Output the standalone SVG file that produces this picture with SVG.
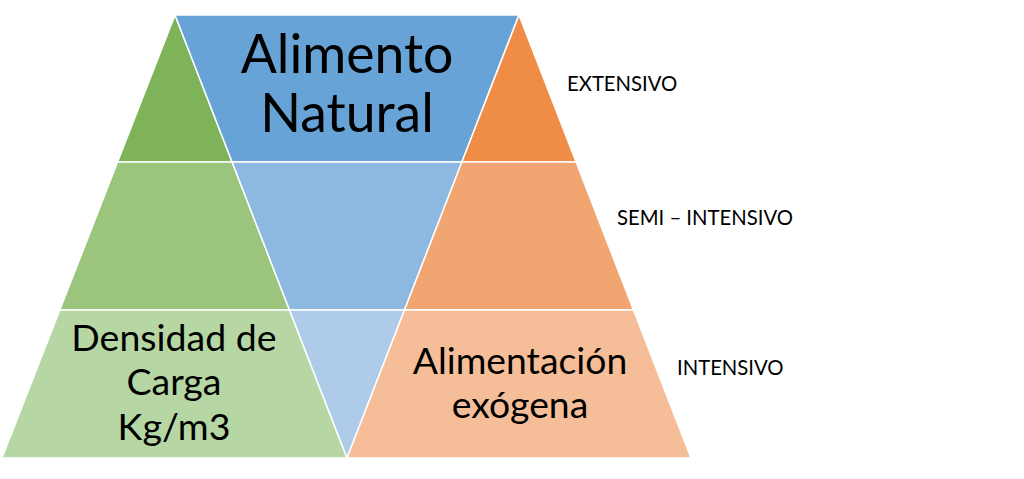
<svg xmlns="http://www.w3.org/2000/svg" width="1024" height="479" viewBox="0 0 1024 479">
<style>
.seg{stroke:#ffffff;stroke-width:1.5;stroke-linejoin:round}
.big{font-family:Lato,"Open Sans","Liberation Sans",sans-serif;fill:#000;text-anchor:middle}
.lbl{font-family:Lato,"Open Sans","Liberation Sans",sans-serif;fill:#000;font-size:20.3px}
</style>
<rect width="1024" height="479" fill="#ffffff"/>
<g id="green">
<polygon class="seg" fill="#7FB35A" points="175,15 117.6,162 232.1,162"/>
<polygon class="seg" fill="#9BC47D" points="117.6,162 232.1,162 289.5,310 59.8,310"/>
<polygon class="seg" fill="#B6D7A4" points="59.8,310 289.5,310 347,458 2,458"/>
<text class="big" font-size="37.5" x="174" y="351">Densidad de</text>
<text class="big" font-size="37.5" x="174" y="395">Carga</text>
<text class="big" font-size="37.5" x="174" y="440">Kg/m3</text>
</g>
<g id="blue">
<polygon class="seg" fill="#67A3D6" points="175,15 519,15 461.9,162 232.1,162"/>
<polygon class="seg" fill="#8DB8E2" points="232.1,162 461.9,162 404.5,310 289.5,310"/>
<polygon class="seg" fill="#AECCEA" points="289.5,310 404.5,310 347,458"/>
<text class="big" font-size="53.5" x="347" y="73">Alimento</text>
<text class="big" font-size="53.5" x="347" y="132">Natural</text>
</g>
<g id="orange">
<polygon class="seg" fill="#EF8C46" points="519,15 576.1,162 461.9,162"/>
<polygon class="seg" fill="#F1A570" points="461.9,162 576.1,162 633.5,310 404.5,310"/>
<polygon class="seg" fill="#F5BE98" points="404.5,310 633.5,310 691,458 347,458"/>
<text class="big" font-size="37.3" x="520" y="374">Alimentación</text>
<text class="big" font-size="37.3" x="520" y="418">exógena</text>
</g>
<g id="labels">
<text class="lbl" x="567" y="91">EXTENSIVO</text>
<text class="lbl" x="617" y="225">SEMI – INTENSIVO</text>
<text class="lbl" x="677" y="375">INTENSIVO</text>
</g>
</svg>
